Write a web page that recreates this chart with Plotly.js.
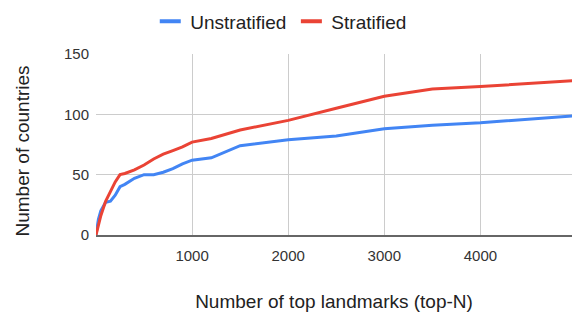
<!DOCTYPE html>
<html>
<head>
<meta charset="utf-8">
<script src="https://cdn.plot.ly/plotly-3.0.1.min.js"></script>
<style>html,body{margin:0;padding:0;background:#fff;}#chart{width:572px;height:318px;}</style>
</head>
<body>
<div id="chart"></div>
<script>
// Data
const topN = [0, 25, 50, 100, 150, 200, 250, 300, 400, 500, 600, 700, 800, 900, 1000, 1200, 1500, 2000, 2500, 3000, 3500, 4000, 5000];
const unstratified = [0, 13, 20, 27, 28, 33, 40, 42, 47, 50, 50, 52, 55, 59, 62, 64, 74, 79, 82, 88, 91, 93, 99];
const stratified = [0, 8, 16, 28, 36, 44, 50, 51, 54, 58, 63, 67, 70, 73, 77, 80, 87, 95, 105, 115, 121, 123, 128];
const seriesNames = ["Unstratified", "Stratified"];
const xTickVals = [1000, 2000, 3000, 4000];
const yTickVals = [0, 50, 100, 150];
const xTitle = "Number of top landmarks (top-N)";
const yTitle = "Number of countries";

const BLUE = "#4285F4", RED = "#EA4335";
const FONT = "Liberation Sans, Arial, sans-serif";

const traces = [
  {x: topN, y: unstratified, mode: "lines", line: {color: BLUE, width: 3}, showlegend: false, hoverinfo: "skip"},
  {x: topN, y: stratified, mode: "lines", line: {color: RED, width: 3}, showlegend: false, hoverinfo: "skip"},
  {x: [null], y: [null], name: seriesNames[0], mode: "markers", marker: {symbol: "line-ew", size: 15, color: BLUE, line: {color: BLUE, width: 4}}},
  {x: [null], y: [null], name: seriesNames[1], mode: "markers", marker: {symbol: "line-ew", size: 15, color: RED, line: {color: RED, width: 4}}}
];

const L = 95.5, T = 53.5, PW = 572 - 95.5, PH = 318 - 53.5 - 82.5;

const layout = {
  width: 572, height: 318,
  margin: {l: L, r: 0, t: T, b: 82.5, pad: 0},
  paper_bgcolor: "#fff", plot_bgcolor: "#fff",
  font: {family: FONT, color: "#222"},
  showlegend: true,
  legend: {orientation: "h", x: 0.114, xanchor: "left", y: 1.285, yanchor: "top",
           font: {size: 19, color: "#222"}, itemsizing: "trace", bgcolor: "rgba(0,0,0,0)"},
  xaxis: {
    range: [0, 4953], tickvals: xTickVals, ticktext: xTickVals.map(String),
    showgrid: true, gridcolor: "#cccccc", gridwidth: 1, zeroline: false,
    showline: true, linecolor: "#666666", linewidth: 2,
    ticks: "", tickfont: {size: 15, color: "#333"}, ticklabelstandoff: 6,
    title: {text: xTitle, font: {size: 19, color: "#222"}, standoff: 32},
    fixedrange: true
  },
  yaxis: {
    range: [0, 150], tickvals: yTickVals, ticktext: yTickVals.map(String),
    showgrid: true, gridcolor: "#cccccc", gridwidth: 1, zeroline: false,
    showline: false, ticks: "", tickfont: {size: 15, color: "#333"}, ticklabelstandoff: 6,
    fixedrange: true
  },
  annotations: [{
    text: yTitle, textangle: -90, showarrow: false,
    xref: "paper", yref: "paper",
    x: (22 - L) / PW, y: (235.5 - 151) / PH, xanchor: "center", yanchor: "middle",
    font: {size: 19, color: "#222", family: FONT}
  }]
};

Plotly.newPlot("chart", traces, layout, {displayModeBar: false, staticPlot: true});
</script>
</body>
</html>
